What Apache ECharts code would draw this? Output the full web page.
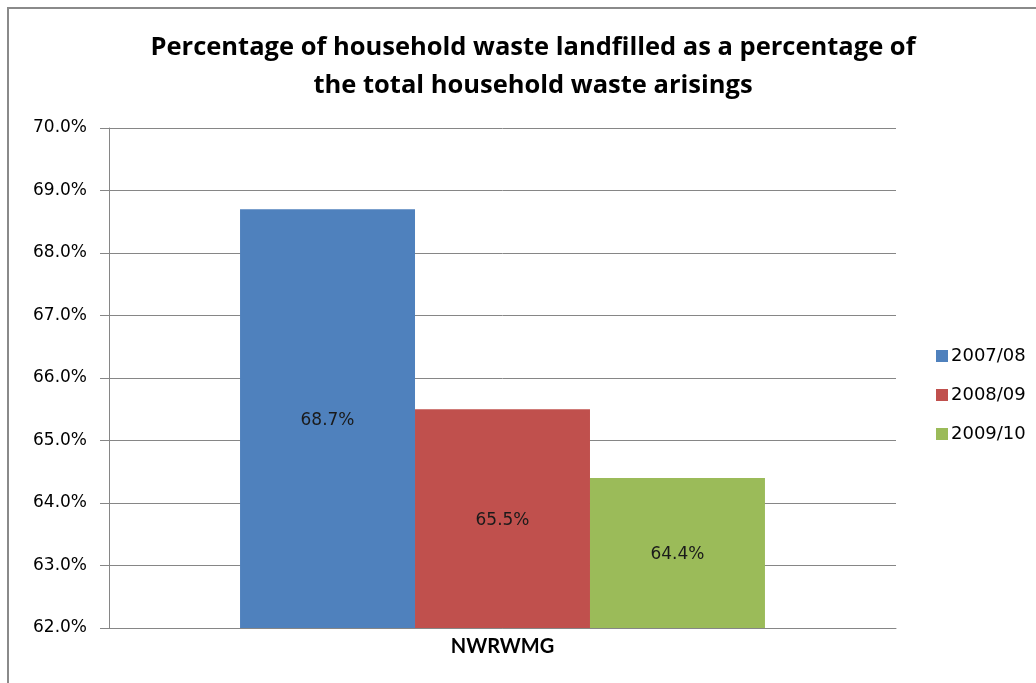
<!DOCTYPE html>
<html>
<head>
<meta charset="utf-8">
<script src="https://cdn.jsdelivr.net/npm/echarts@6/dist/echarts.min.js"></script>
<style>
  html, body { margin: 0; padding: 0; background: #fff; }
  #chart { width: 1036px; height: 683px; }
</style>
</head>
<body>
<div id="chart"></div>
<script>
// Chart data
const titleText = 'Percentage of household waste landfilled as a percentage of\nthe total household waste arisings';
const categories = ['NWRWMG'];
const seriesNames = ['2007/08', '2008/09', '2009/10'];
const values2007 = [68.7];
const values2008 = [65.5];
const values2009 = [64.4];
const seriesColors = ['#4F81BD', '#C0504D', '#9BBB59'];
const yMin = 62, yMax = 70, yStep = 1;

const allValues = [values2007, values2008, values2009];

const chart = echarts.init(document.getElementById('chart'), null, { renderer: 'canvas' });

const series = seriesNames.map((name, i) => ({
  name: name,
  type: 'bar',
  data: allValues[i],
  barGap: '0%',
  barCategoryGap: '33.3%',
  itemStyle: { color: seriesColors[i] },
  label: {
    show: true,
    position: 'inside',
    offset: [0, 2],
    color: '#1a1a1a',
    fontFamily: 'DejaVu Sans',
    fontSize: 17,
    formatter: p => p.value.toFixed(1) + '%'
  }
}));

chart.setOption({
  animation: false,
  backgroundColor: '#ffffff',
  title: {
    text: titleText,
    left: 528,
    textAlign: 'center',
    top: 24,
    textStyle: {
      fontFamily: 'Open Sans',
      fontWeight: 'bold',
      fontSize: 25.5,
      lineHeight: 38,
      color: '#000'
    }
  },
  legend: {
    orient: 'vertical',
    left: 931,
    top: 342,
    icon: 'rect',
    itemWidth: 12,
    itemHeight: 12,
    itemGap: 21,
    data: seriesNames,
    textStyle: { fontFamily: 'DejaVu Sans', fontSize: 18, color: '#000', padding: [0, 0, 0, -2] }
  },
  grid: { left: 109, right: 140, top: 128, bottom: 55, containLabel: false },
  xAxis: {
    type: 'category',
    data: categories,
    axisLine: { show: true, lineStyle: { color: '#868686', width: 1 } },
    axisTick: { show: false },
    axisLabel: {
      margin: 9,
      fontFamily: 'Lato',
      fontWeight: 'bold',
      fontSize: 20,
      color: '#000'
    }
  },
  yAxis: {
    type: 'value',
    min: yMin,
    max: yMax,
    interval: yStep,
    axisLine: { show: true, lineStyle: { color: '#868686', width: 1 } },
    axisTick: { show: true, inside: false, length: 9, lineStyle: { color: '#868686' } },
    splitLine: { show: true, lineStyle: { color: '#868686', width: 1 } },
    axisLabel: {
      margin: 22,
      fontFamily: 'DejaVu Sans',
      fontSize: 17,
      color: '#000',
      formatter: v => v.toFixed(1) + '%'
    }
  },
  graphic: [
    { type: 'line', shape: { x1: 8, y1: 8, x2: 1036, y2: 8 }, style: { stroke: '#8a8a8a', lineWidth: 2 } },
    { type: 'line', shape: { x1: 8, y1: 7, x2: 8, y2: 683 }, style: { stroke: '#8a8a8a', lineWidth: 2 } }
  ],
  series: series
});
</script>
</body>
</html>
